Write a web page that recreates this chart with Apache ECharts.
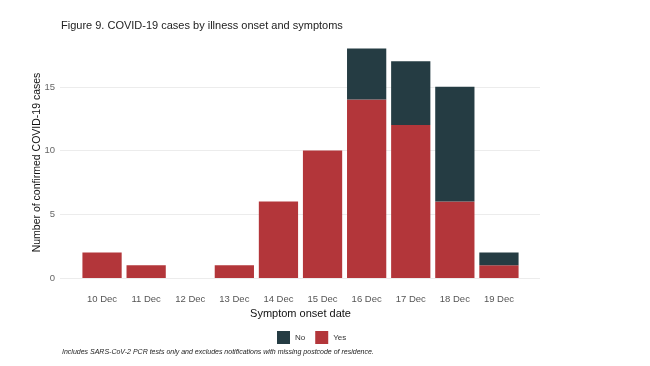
<!DOCTYPE html>
<html><head><meta charset="utf-8">
<script src="https://cdn.jsdelivr.net/npm/echarts@6/dist/echarts.min.js"></script>
<style>html,body{margin:0;padding:0;background:#fff}#c{width:650px;height:366px}</style>
</head><body><div id="c"></div>
<script>
const categories = ['10 Dec','11 Dec','12 Dec','13 Dec','14 Dec','15 Dec','16 Dec','17 Dec','18 Dec','19 Dec'];
const yesValues = [2, 1, 0, 1, 6, 10, 14, 12, 6, 1];
const noValues  = [0, 0, 0, 0, 0, 0, 4, 5, 9, 1];
const yTicks = [0, 5, 10, 15];

const FONT = '"Liberation Sans", Arial, sans-serif';
const chart = echarts.init(document.getElementById('c'), null, {renderer: 'canvas'});
chart.setOption({
  backgroundColor: '#fff',
  animation: false,
  textStyle: {fontFamily: FONT},
  title: {
    text: 'Figure 9. COVID-19 cases by illness onset and symptoms',
    left: 56, top: 15,
    textStyle: {fontSize: 11, fontWeight: 'normal', color: '#222', fontFamily: FONT}
  },
  graphic: [{
    type: 'text', left: 62, top: 349,
    style: {text: 'Includes SARS-CoV-2 PCR tests only and excludes notifications with missing postcode of residence.',
      font: 'italic 7px ' + FONT, fill: '#222'}
  }],
  legend: {
    data: ['No', 'Yes'], left: 272, top: 326,
    icon: 'rect', itemWidth: 13, itemHeight: 13, itemGap: 10,
    textStyle: {fontSize: 8, color: '#333', fontFamily: FONT}
  },
  grid: [
    {left: 60, right: 110, top: 87, bottom: 88, containLabel: false},
    {left: 80, right: 129, top: 37, bottom: 88, containLabel: false}
  ],
  xAxis: [
    {gridIndex: 0, type: 'value', min: 0, max: 1, show: false},
    {gridIndex: 1, type: 'category', data: categories,
     axisLine: {show: false}, axisTick: {show: false},
     axisLabel: {fontSize: 9.5, color: '#555', margin: 16, fontFamily: FONT},
     name: 'Symptom onset date', nameLocation: 'middle', nameGap: 22,
     nameTextStyle: {fontSize: 11, color: '#111', fontFamily: FONT}}
  ],
  yAxis: [
    {gridIndex: 0, type: 'value', min: yTicks[0], max: yTicks[yTicks.length-1], interval: 5,
     axisLine: {show: false}, axisTick: {show: false},
     axisLabel: {fontSize: 9.5, color: '#666', margin: 5, fontFamily: FONT},
     splitLine: {show: true, lineStyle: {color: '#ececec', width: 1}}},
    {gridIndex: 1, type: 'value', min: 0, max: 18.9,
     axisLine: {show: false}, axisTick: {show: false}, axisLabel: {show: false},
     splitLine: {show: false},
     name: 'Number of confirmed COVID-19 cases', nameLocation: 'middle', nameGap: 37,
     nameTextStyle: {fontSize: 10.5, color: '#111', fontFamily: FONT, padding: [0, 10, 0, 0]}}
  ],
  series: [
    {name: 'Yes', type: 'bar', stack: 's', xAxisIndex: 1, yAxisIndex: 1,
     data: yesValues, barCategoryGap: '11%', itemStyle: {color: '#b3363a'}},
    {name: 'No', type: 'bar', stack: 's', xAxisIndex: 1, yAxisIndex: 1,
     data: noValues, barCategoryGap: '11%', itemStyle: {color: '#253c43'}}
  ]
});
</script></body></html>
